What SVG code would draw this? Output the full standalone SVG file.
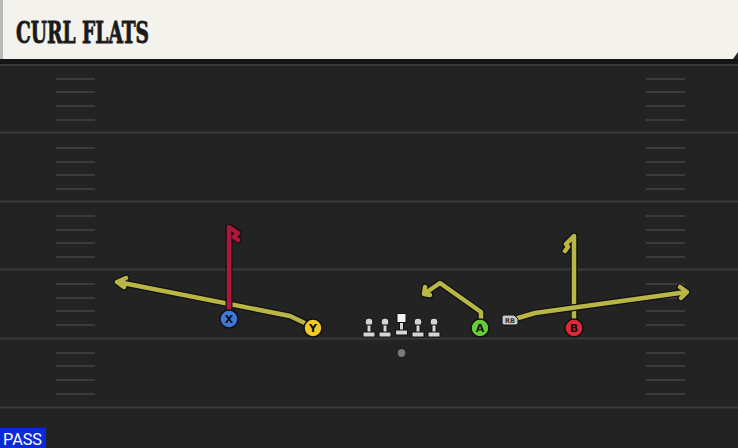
<svg xmlns="http://www.w3.org/2000/svg" width="738" height="448" viewBox="0 0 738 448">
<defs>
<style>
.yl{stroke:#3a3a3a;stroke-width:2}
.hash{stroke:#3b3b3b;stroke-width:2}
.out{fill:none;stroke:#111;stroke-width:7;stroke-linejoin:round;stroke-linecap:round}
.ry{fill:none;stroke:#b9b646;stroke-width:4.5;stroke-linejoin:round;stroke-linecap:round}
.rr{fill:none;stroke:#b0163c;stroke-width:4.5;stroke-linejoin:round;stroke-linecap:round}
.pl{stroke:#111;stroke-width:1.5}
.lbl{font-family:"DejaVu Sans",sans-serif;font-weight:bold;font-size:11px;fill:#111;text-anchor:middle}
.ol{fill:#d4d4d4;stroke:#111;stroke-width:1}
</style>
<g id="hashset">
<line class="hash" x1="56" y1="0" x2="95" y2="0"/>
</g>
</defs>
<rect x="0" y="0" width="738" height="448" fill="#232323"/>
<g id="field">
<line class="yl" x1="0" y1="65" x2="738" y2="65"/>
<line class="yl" x1="0" y1="132.5" x2="738" y2="132.5"/>
<line class="yl" x1="0" y1="201.5" x2="738" y2="201.5"/>
<line class="yl" x1="0" y1="269.5" x2="738" y2="269.5"/>
<line class="yl" x1="0" y1="338.5" x2="738" y2="338.5"/>
<line class="yl" x1="0" y1="407.5" x2="738" y2="407.5"/>
<g id="hl">
<use href="#hashset" y="79"/><use href="#hashset" y="92"/><use href="#hashset" y="106"/><use href="#hashset" y="120"/>
<use href="#hashset" y="148"/><use href="#hashset" y="162"/><use href="#hashset" y="175"/><use href="#hashset" y="189"/>
<use href="#hashset" y="216"/><use href="#hashset" y="230"/><use href="#hashset" y="243"/><use href="#hashset" y="257"/>
<use href="#hashset" y="284"/><use href="#hashset" y="298"/><use href="#hashset" y="311"/><use href="#hashset" y="325"/>
<use href="#hashset" y="353"/><use href="#hashset" y="366"/><use href="#hashset" y="380"/><use href="#hashset" y="394"/>
</g>
<use href="#hl" x="590"/>
</g>
<g id="header">
<rect x="0" y="59" width="738" height="5" fill="#151515"/>
<polygon points="0,0 738,0 738,52 733,59 0,59" fill="#f4f2ec"/>
<rect x="0" y="0" width="3" height="59" fill="#b8b8b8"/>
<text x="16" y="43" font-family="'DejaVu Serif Condensed','DejaVu Serif',serif" font-weight="bold" font-size="30" fill="#1a1a1a" stroke="#1a1a1a" stroke-width="0.8" textLength="133" lengthAdjust="spacingAndGlyphs">CURL FLATS</text>
</g>
<g id="connectors">
<path class="out" d="M311,326 L290,316 L118,282 M126,278 L117,282 L124,287"/>
<path class="ry" d="M311,326 L290,316 L118,282 M126,278 L117,282 L124,287"/>
<path class="out" d="M229,310 L229,227 L238,233 L234,237 L238,240"/>
<path class="rr" d="M229,310 L229,227 L238,233 L234,237 L238,240"/>
<path class="out" d="M481,320 L481,312 L440,283 L424,294 M425,287 L424,294 L430,295"/>
<path class="ry" d="M481,320 L481,312 L440,283 L424,294 M425,287 L424,294 L430,295"/>
<path class="out" d="M574,320 L574,236 L566,244 L568,247 L565,251"/>
<path class="ry" d="M574,320 L574,236 L566,244 L568,247 L565,251"/>
<path class="out" d="M518,318 L535,313 L687,292 M680,287 L687,292 L681,298"/>
<path class="ry" d="M518,318 L535,313 L687,292 M680,287 L687,292 L681,298"/>
</g>
<g id="X"><circle class="pl" cx="229" cy="319" r="9" fill="#3f78d8"/><text class="lbl" x="229" y="323">X</text></g>
<g id="Y"><circle class="pl" cx="313" cy="328" r="9" fill="#f2c928"/><text class="lbl" x="313" y="332">Y</text></g>
<g id="A"><circle class="pl" cx="480" cy="328" r="9" fill="#66cc3a"/><text class="lbl" x="480" y="332">A</text></g>
<g id="B"><circle class="pl" cx="574" cy="328" r="9" fill="#e0283a"/><text class="lbl" x="574" y="332">B</text></g>
<g id="RB"><path d="M502,317 Q502,315 504,315 L514,315 L518,319 L518,323 Q518,325 516,325 L504,325 Q502,325 502,323 Z" fill="#c8c8c8" stroke="#111" stroke-width="1"/><text x="510" y="323" font-family="'DejaVu Sans',sans-serif" font-weight="bold" font-size="6.5" fill="#333" text-anchor="middle">RB</text></g>
<g id="LT"><circle class="ol" cx="369" cy="322" r="4"/><rect class="ol" x="367" y="325" width="4" height="8"/><rect class="ol" x="363" y="332" width="12" height="5"/></g>
<g id="LG"><circle class="ol" cx="385" cy="322" r="4"/><rect class="ol" x="383" y="325" width="4" height="8"/><rect class="ol" x="379" y="332" width="12" height="5"/></g>
<g id="C"><rect x="397" y="313.5" width="9" height="9" fill="#f4f4f4" stroke="#111" stroke-width="1"/><rect class="ol" x="399.5" y="322.5" width="4" height="8"/><rect class="ol" x="395.5" y="330" width="12" height="5"/></g>
<g id="RG"><circle class="ol" cx="418" cy="322" r="4"/><rect class="ol" x="416" y="325" width="4" height="8"/><rect class="ol" x="412" y="332" width="12" height="5"/></g>
<g id="RT"><circle class="ol" cx="434" cy="322" r="4"/><rect class="ol" x="432" y="325" width="4" height="8"/><rect class="ol" x="428" y="332" width="12" height="5"/></g>
<g id="QB"><circle cx="401.5" cy="353" r="4.5" fill="#7a7a7a" stroke="#111" stroke-width="1"/></g>
<g id="pass"><rect x="0" y="428" width="46" height="20" fill="#0a2ad8"/><text x="3" y="445" font-family="Roboto,'DejaVu Sans',sans-serif" font-size="16" fill="#ffffff" textLength="39" lengthAdjust="spacingAndGlyphs">PASS</text></g>
</svg>
